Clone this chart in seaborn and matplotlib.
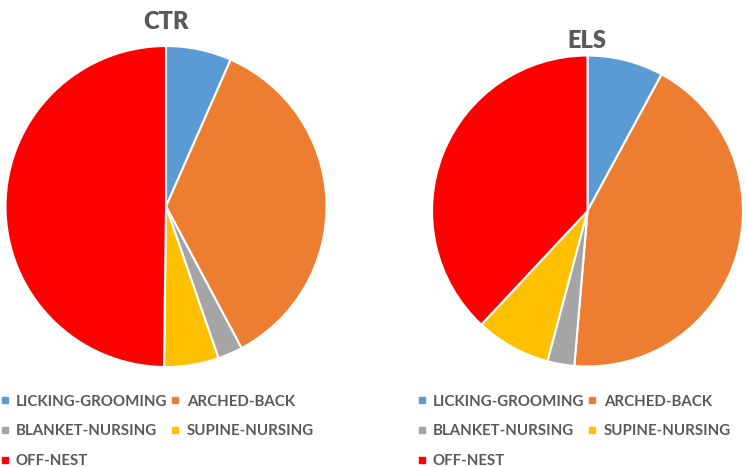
import matplotlib
matplotlib.use("Agg")
import matplotlib.pyplot as plt
import seaborn as sns
from matplotlib.lines import Line2D

categories = ["LICKING-GROOMING", "ARCHED-BACK", "BLANKET-NURSING", "SUPINE-NURSING", "OFF-NEST"]
ctr_values = [6.6, 35.6, 2.5, 5.5, 49.8]
els_values = [7.9, 43.4, 2.8, 7.8, 38.0]
titles = ["CTR", "ELS"]
colors = ["#5B9BD5", "#ED7D31", "#A5A5A5", "#FFC000", "#FF0000"]

sns.set_theme(style="white")
plt.rcParams['font.family'] = ['Lato', 'DejaVu Sans']

W, H = 745, 467
fig = plt.figure(figsize=(W / 100, H / 100), dpi=100)
fig.patch.set_facecolor("white")

def px_axes(cx, cy, r):
    return fig.add_axes([(cx - r) / W, (H - cy - r) / H, 2 * r / W, 2 * r / H])

text_color = "#595959"
pies = [(ctr_values, (166, 206.5, 160.5), (166, 22)), (els_values, (587.5, 211, 155.5), (587, 41))]
for (vals, (cx, cy, r), (tx, ty)), title in zip(pies, titles):
    ax = px_axes(cx, cy, r)
    ax.pie(vals, colors=colors, startangle=90, counterclock=False,
           wedgeprops=dict(edgecolor="white", linewidth=1.5))
    ax.set_xlim(-1, 1)
    ax.set_ylim(-1, 1)
    ax.set_aspect("auto")
    ax.axis("off")
    fig.text(tx / W, 1 - ty / H, title, ha="center", va="center",
             fontsize=17, fontweight="heavy", color=text_color)

order = [0, 2, 4, 1, 3]
handles = [Line2D([], [], marker="s", linestyle="none", markersize=5,
                  markerfacecolor=colors[i], markeredgecolor=colors[i]) for i in order]
labels = [categories[i] for i in order]
for lx in [0, 417]:
    fig.legend(handles, labels, ncol=2, loc="upper left",
               bbox_to_anchor=(lx / W, 1 - 394.5 / H), frameon=False,
               handlelength=0.6, handletextpad=0.45,
               columnspacing=0.25, labelspacing=1.05, borderaxespad=0,
               borderpad=0, labelcolor=text_color,
               prop=dict(family=['Lato', 'DejaVu Sans'], weight='bold', size=10.8))

fig.savefig("out.png", dpi=100, facecolor="white")
